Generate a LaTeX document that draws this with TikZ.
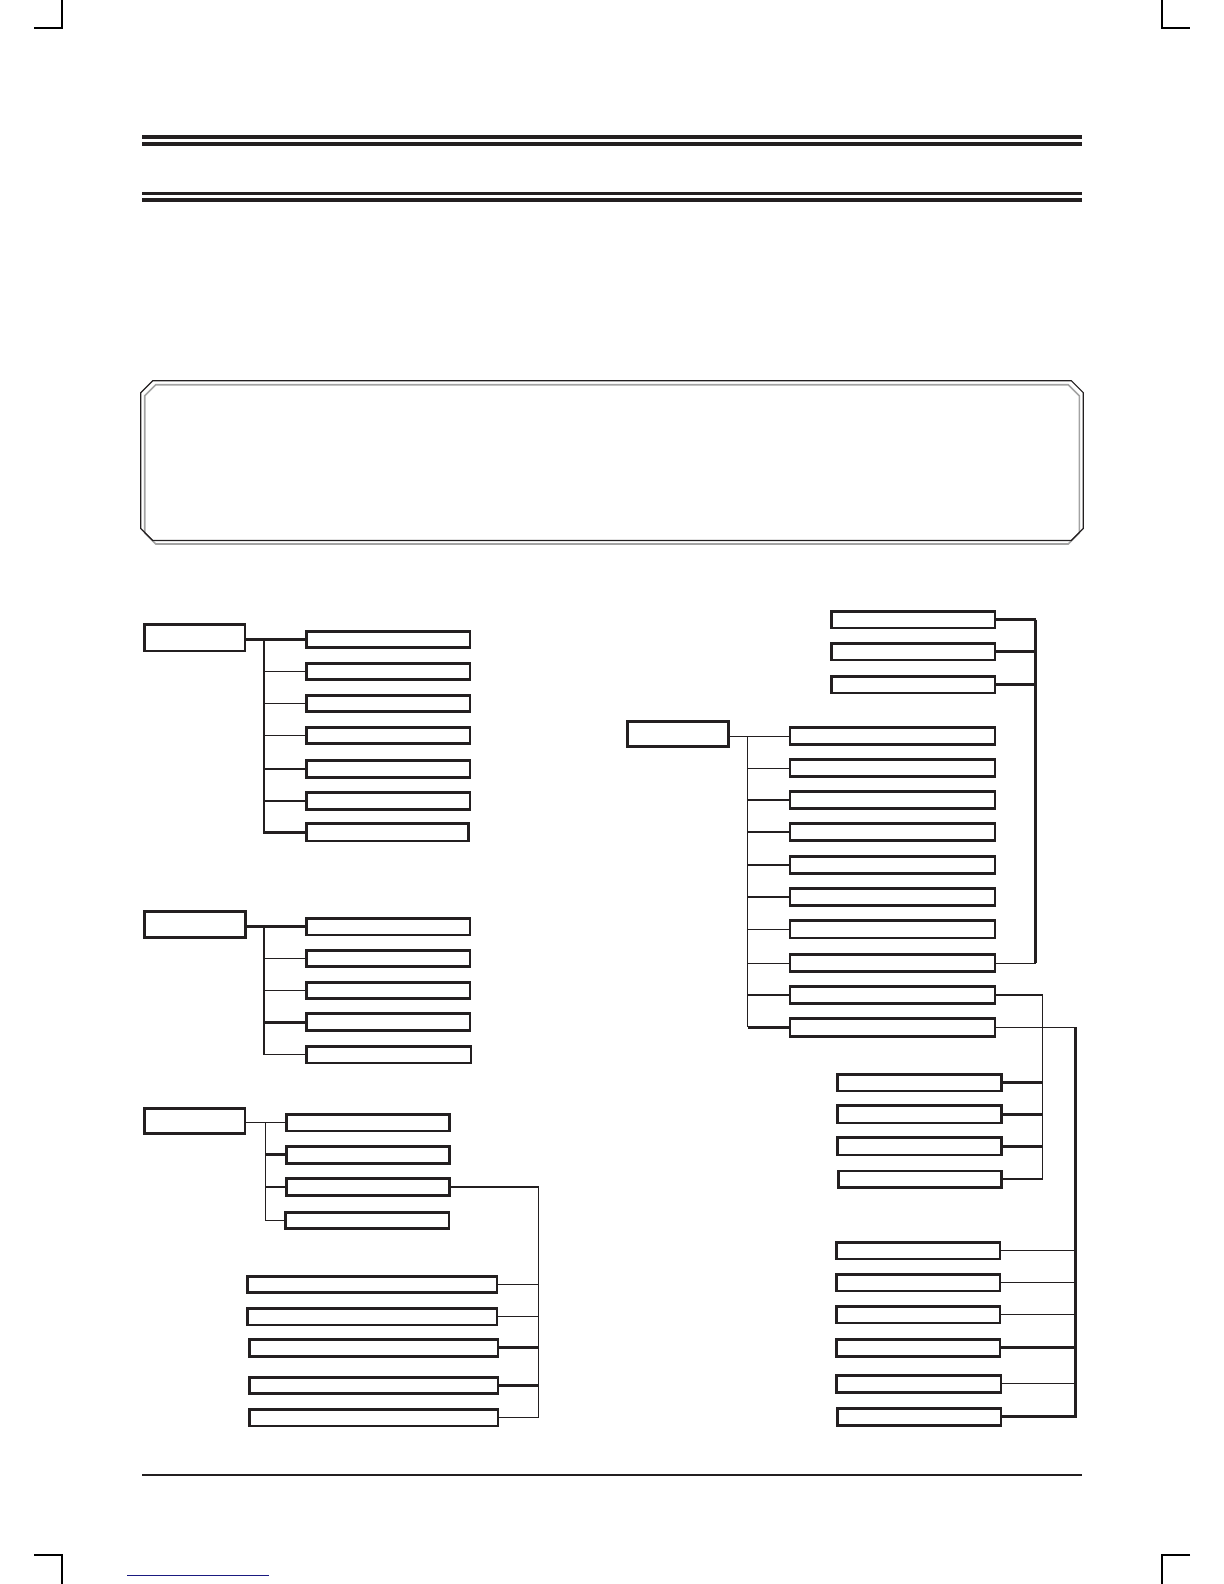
\documentclass[tikz,border=0pt]{standalone}
\usetikzlibrary{calc}
\definecolor{ink}{HTML}{231F20}
\definecolor{linkblue}{HTML}{1A1A80}
\definecolor{framegray}{HTML}{A3A3A3}
\newcommand\bx[5]{\node[bxs, minimum width={(#4-#2-2.8)*0.5pt}, minimum height={(#5-#3-2.8)*0.5pt}] (#1) at ({(#2+#4)/2},{(#3+#5)/2}) {};}
\tikzset{
  bxs/.style={draw=ink, line width=1.4pt, inner sep=0pt, outer sep=0pt, rectangle},
  tk/.style={draw=ink, line width=1.4pt},
  tn/.style={draw=ink, line width=0.65pt},
  rule/.style={draw=ink},
  crop/.style={draw=black, line width=0.6pt},
}
\begin{document}
\begin{tikzpicture}[x=0.5pt, y=-0.5pt]
\useasboundingbox (0,0) rectangle (1224,1584);
% crop marks
\draw[crop] (62,0) -- (62,28) -- (34,28);
\draw[crop] (1162,0) -- (1162,28) -- (1190,28);
\draw[crop] (34,1555) -- (62,1555) -- (62,1584);
\draw[crop] (1190,1555) -- (1162,1555) -- (1162,1584);
% header rules
\draw[rule, line width=2pt] (142,137) -- (1082,137);
\draw[rule, line width=2pt] (142,144) -- (1082,144);
\draw[rule, line width=1.8pt] (142,193.5) -- (1082,193.5);
\draw[rule, line width=2pt] (142,200) -- (1082,200);
% footer rule and link line
\draw[rule, line width=1pt] (142,1474.7) -- (1082,1474.7);
\draw[linkblue, line width=0.5pt] (127,1575) -- (269,1575);
% chamfered frame
\draw[framegray, line width=0.8pt] (155.7,384.7) -- (1068.3,384.7) -- (1079.3,395.7) -- (1079.3,533) -- (1068.3,544) -- (155.7,544) -- (144.7,533) -- (144.7,395.7) -- cycle;
\draw[ink, line width=0.6pt] (152.7,380.7) -- (1071.3,380.7) -- (1083.3,392.7) -- (1083.3,528.5) -- (1071.3,540.5) -- (152.7,540.5) -- (140.7,528.5) -- (140.7,392.7) -- cycle;

% ---------- group 1 ----------
\bx{ga}{142.7}{622.7}{246.3}{652.3}
\bx{ga1}{305.3}{629.7}{471.3}{649}
\bx{ga2}{305.3}{661.7}{471.3}{681}
\bx{ga3}{305.3}{693.7}{471.3}{713}
\bx{ga4}{305.3}{725.7}{471.3}{745}
\bx{ga5}{305.3}{759}{471.3}{779}
\bx{ga6}{305.3}{791}{471.3}{811}
\bx{ga7}{304.7}{822.3}{470}{842.3}
\coordinate (gat) at (264,0);
\draw[tk] (ga.east |- ga1.west) -- (ga1.west);
\draw[tk] (gat |- ga1.west) |- (ga7.west);
\draw[tn] (gat |- ga2.west) -- (ga2.west);
\draw[tn] (gat |- ga3.west) -- (ga3.west);
\draw[tn] (gat |- ga4.west) -- (ga4.west);
\draw[tk] (gat |- ga5.west) -- (ga5.west);
\draw[tn] (gat |- ga6.west) -- (ga6.west);

% ---------- group 2 ----------
\bx{gb}{142.7}{910}{246.7}{939}
\bx{gb1}{305.3}{917}{471.3}{936.3}
\bx{gb2}{305.3}{948.7}{471.3}{968}
\bx{gb3}{305.3}{980.7}{471.3}{1000}
\bx{gb4}{305.3}{1012.3}{471.3}{1032}
\bx{gb5}{305.3}{1044.7}{472.3}{1064.3}
\coordinate (gbt) at (264,0);
\draw[tk] (gb.east |- gb1.west) -- (gb1.west);
\draw[tk] (gbt |- gb1.west) -- (gbt |- gb4.west);
\draw[tn] (gbt |- gb4.west) |- (gb5.west);
\draw[tn] (gbt |- gb2.west) -- (gb2.west);
\draw[tn] (gbt |- gb3.west) -- (gb3.west);
\draw[tk] (gbt |- gb4.west) -- (gb4.west);

% ---------- group 3 ----------
\bx{gc}{142.7}{1107}{246.3}{1135}
\bx{gc1}{285.3}{1112.7}{451}{1132.3}
\bx{gc2}{285.3}{1144.7}{451}{1165}
\bx{gc3}{285.3}{1177}{451}{1197}
\bx{gc4}{284.3}{1210.7}{450.3}{1230}
\coordinate (gct) at (265.7,0);
\draw[tn] (gc.east |- gc1.west) -- (gc1.west);
\draw[tn] (gct |- gc1.west) |- (gc4.west);
\draw[tk] (gct |- gc2.west) -- (gc2.west);
\draw[tk] (gct |- gc3.west) -- (gc3.west);
% sub-list of gc3
\bx{gd1}{246.3}{1274.7}{498.3}{1294}
\bx{gd2}{246.3}{1306.7}{498.3}{1326.3}
\bx{gd3}{247.7}{1337.7}{499.3}{1358}
\bx{gd4}{247.7}{1375.7}{499.3}{1395}
\bx{gd5}{247.7}{1407.7}{499.3}{1427.3}
\coordinate (gdt) at (538.3,0);
\draw[tn] (gc3.east) -| (gdt |- gd5.east) -- (gd5.east);
\draw[tn] (gd1.east) -- (gdt |- gd1.east);
\draw[tn] (gd2.east) -- (gdt |- gd2.east);
\draw[tk] (gd3.east) -- (gdt |- gd3.east);
\draw[tk] (gd4.east) -- (gdt |- gd4.east);

% ---------- right group ----------
\bx{rh}{625.7}{719.7}{730}{748}
\bx{r1}{788.5}{726.3}{996.3}{746}
\bx{r2}{788.5}{758.3}{996.3}{778}
\bx{r3}{788.5}{790}{996.3}{810}
\bx{r4}{788.5}{822}{996.3}{842}
\bx{r5}{788.5}{855}{996.3}{875}
\bx{r6}{788.5}{887}{996.3}{907}
\bx{r7}{788.5}{919.3}{996.3}{939.3}
\bx{r8}{788.5}{953.3}{996.3}{973}
\bx{r9}{788.5}{985}{996.3}{1005}
\bx{r10}{788.5}{1016.7}{996.3}{1038}
\coordinate (rt) at (747.7,0);
\draw[tn] (rh.east |- r1.west) -- (r1.west);
\draw[tn] (rt |- r1.west) -- (rt |- r10.west);
\draw[tk] (rt |- r10.west) -- (r10.west);
\draw[tn] (rt |- r2.west) -- (r2.west);
\draw[tn] (rt |- r3.west) -- (r3.west);
\draw[tn] (rt |- r4.west) -- (r4.west);
\draw[tn] (rt |- r5.west) -- (r5.west);
\draw[tn] (rt |- r6.west) -- (r6.west);
\draw[tn] (rt |- r7.west) -- (r7.west);
\draw[tn] (rt |- r8.west) -- (r8.west);
\draw[tn] (rt |- r9.west) -- (r9.west);
% three boxes above, joined to r8
\bx{s1}{830.3}{609.7}{996.3}{629.3}
\bx{s2}{830.3}{641.7}{996.3}{661.3}
\bx{s3}{830.3}{674.7}{996.3}{694.3}
\coordinate (st) at (1035.7,0);
\draw[tk] (s1.east) -- (st |- s1.east);
\draw[tk] (s2.east) -- (st |- s2.east);
\draw[tk] (s3.east) -- (st |- s3.east);
\draw[tk] (st |- s1.east) -- (st |- r8.east);
\draw[tn] (r8.east) -- (st |- r8.east);
% four boxes below, joined to r9
\bx{u1}{836.3}{1072.7}{1002.7}{1092.3}
\bx{u2}{836.3}{1104.3}{1002.7}{1124.3}
\bx{u3}{836.3}{1136.3}{1002.7}{1156.3}
\bx{u4}{837}{1169.5}{1003}{1188.7}
\coordinate (ut) at (1042.3,0);
\draw[tn] (r9.east) -| (ut |- u4.east) -- (u4.east);
\draw[tk] (u1.east) -- (ut |- u1.east);
\draw[tk] (u2.east) -- (ut |- u2.east);
\draw[tk] (u3.east) -- (ut |- u3.east);
% six boxes below, joined to r10
\bx{v1}{835.3}{1240.7}{1001.3}{1260.3}
\bx{v2}{835.3}{1272.7}{1001.3}{1292.3}
\bx{v3}{835.3}{1304.7}{1001.3}{1324.3}
\bx{v4}{835.3}{1337.7}{1001.3}{1357.7}
\bx{v5}{835.3}{1373.7}{1002.3}{1393.7}
\bx{v6}{836.3}{1406.7}{1002.3}{1427}
\coordinate (vt) at (1075.7,0);
\draw[tn] (r10.east) -- (vt |- r10.east);
\draw[tk] (vt |- r10.east) |- (v6.east);
\draw[tn] (v1.east) -- (vt |- v1.east);
\draw[tn] (v2.east) -- (vt |- v2.east);
\draw[tn] (v3.east) -- (vt |- v3.east);
\draw[tk] (v4.east) -- (vt |- v4.east);
\draw[tn] (v5.east) -- (vt |- v5.east);
\end{tikzpicture}
\end{document}
